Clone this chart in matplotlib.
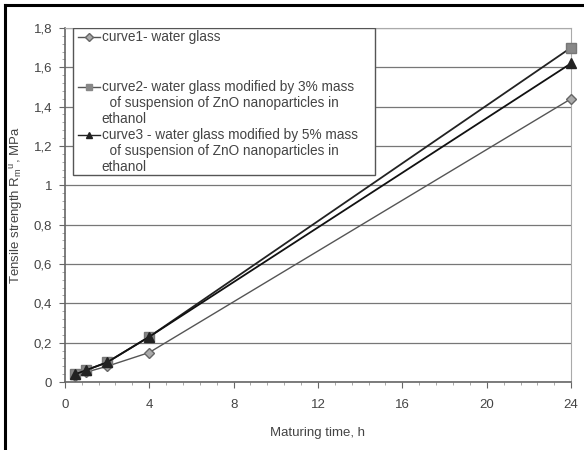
import matplotlib
matplotlib.use("Agg")
import matplotlib.pyplot as plt
from matplotlib.lines import Line2D
from matplotlib.patches import Rectangle
from matplotlib.ticker import MultipleLocator, FuncFormatter

plt.rcParams['font.family'] = ['Liberation Sans', 'DejaVu Sans']

# donnees
temps = [0.5, 1, 2, 4, 24]
curve1 = [0.03, 0.05, 0.08, 0.15, 1.44]
curve2 = [0.04, 0.06, 0.10, 0.23, 1.70]
curve3 = [0.04, 0.06, 0.10, 0.23, 1.62]

x_ticks = [0, 4, 8, 12, 16, 20, 24]
y_ticks = [0, 0.2, 0.4, 0.6, 0.8, 1.0, 1.2, 1.4, 1.6, 1.8]

legend_lines = [
  ["curve1- water glass"],
  ["curve2- water glass modified by 3% mass", "  of suspension of ZnO nanoparticles in", "ethanol"],
  ["curve3 - water glass modified by 5% mass", "  of suspension of ZnO nanoparticles in", "ethanol"],
]

txt = '#444444'

fig = plt.figure(figsize=(5.84, 4.5), dpi=100)
ax = fig.add_axes([0.111, 0.151, 0.867, 0.787])

# cadre noir de la figure (haut et gauche)
fig.add_artist(Line2D([0.008, 1.0], [0.988, 0.988], color='black', lw=2.2, transform=fig.transFigure))
fig.add_artist(Line2D([0.008, 0.008], [0.0, 0.988], color='black', lw=2.2, transform=fig.transFigure))

ax.plot(temps, curve1, color='#555555', lw=1.0, marker='D', ms=5.5, mfc='#aaaaaa', mec='#666666', zorder=3, clip_on=False)
ax.plot(temps, curve2, color='#222222', lw=1.3, marker='s', ms=7, mfc='#888888', mec='#777777', zorder=3, clip_on=False)
ax.plot(temps, curve3, color='#111111', lw=1.3, marker='^', ms=7, mfc='#222222', mec='#222222', zorder=4, clip_on=False)

ax.set_xlim(0, 24)
ax.set_ylim(0, 1.8)
ax.set_xticks(x_ticks)
ax.set_yticks(y_ticks)
ax.xaxis.set_minor_locator(MultipleLocator(0.8))
ax.yaxis.set_minor_locator(MultipleLocator(0.04))

def virgule(v, pos):
  s = ('%.1f' % v).rstrip('0').rstrip('.')
  return s.replace('.', ',')
ax.yaxis.set_major_formatter(FuncFormatter(virgule))

ax.grid(axis='y', color='#777777', lw=0.9)
ax.set_axisbelow(True)
for s in ['top', 'right']:
  ax.spines[s].set_color('#aaaaaa')
for s in ['left', 'bottom']:
  ax.spines[s].set_color('#666666')
  ax.spines[s].set_linewidth(1.2)

ax.tick_params(which='major', length=4, color='#666666', labelsize=9.5, labelcolor=txt, pad=5)
ax.tick_params(axis='x', which='major', pad=8)
ax.tick_params(which='minor', length=2, color='#999999')

ax.set_xlabel('Maturing time, h', fontsize=9.5, color=txt, labelpad=12)
ax.set_ylabel(r'Tensile strength R$_\mathregular{m}$$^\mathregular{u}$, MPa', fontsize=9.5, color=txt, labelpad=6)

# legende dessinee a la main
ax.add_patch(Rectangle((0.016, 0.585), 0.597, 0.415, transform=ax.transAxes,
                       facecolor='white', edgecolor='#555555', lw=1.0, zorder=5))
styles = [
  dict(color='#555555', marker='D', ms=4, mfc='#aaaaaa', mec='#666666'),
  dict(color='#555555', marker='s', ms=5, mfc='#888888', mec='#888888'),
  dict(color='#222222', marker='^', ms=5, mfc='#222222', mec='#222222'),
]
y_starts = [0.975, 0.833, 0.697]
dy = 0.045
for lines, st, y0 in zip(legend_lines, styles, y_starts):
  ax.add_line(Line2D([0.026, 0.048, 0.07], [y0, y0, y0], lw=1.0, markevery=[1],
                     transform=ax.transAxes, zorder=6, **st))
  for k, l in enumerate(lines):
    ax.text(0.073, y0 - k * dy, l, transform=ax.transAxes, fontsize=9.8, color=txt,
            va='center', ha='left', zorder=6)

fig.savefig('out.png', dpi=100)
